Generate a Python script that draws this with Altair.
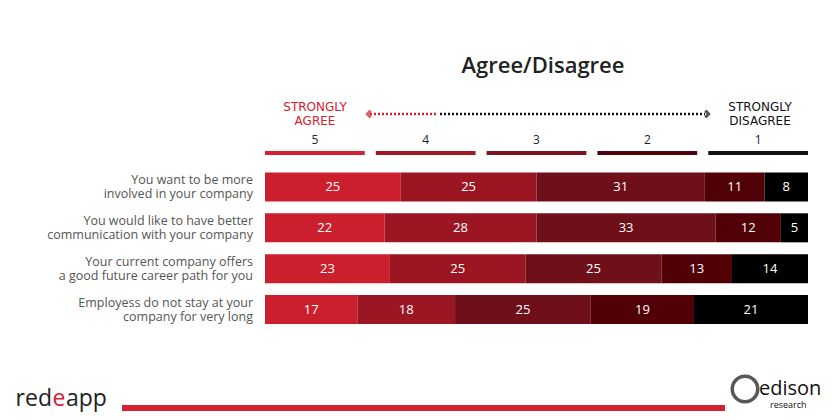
import altair as alt
import pandas as pd

# ---- data ----
categories = [
    "You want to be more\ninvolved in your company",
    "You would like to have better\ncommunication with your company",
    "Your current company offers\na good future career path for you",
    "Employess do not stay at your\ncompany for very long",
]
levels = ["5", "4", "3", "2", "1"]
bar_colors = ["#cc1f2e", "#9b1622", "#6e0f19", "#520007", "#000000"]
legend_colors = ["#d42030", "#a31a27", "#7a1520", "#4d0509", "#111111"]
v5 = [25, 22, 23, 17]
v4 = [25, 28, 25, 18]
v3 = [31, 33, 25, 25]
v2 = [11, 12, 13, 19]
v1 = [8, 5, 14, 21]
title_text = "Agree/Disagree"
agree_text = "STRONGLY\nAGREE"
disagree_text = "STRONGLY\nDISAGREE"

# ---- tables ----
series = [v5, v4, v3, v2, v1]
rows = []
for ci, cat in enumerate(categories):
    acc = 0
    for li, lv in enumerate(levels):
        val = series[li][ci]
        rows.append(dict(cat=cat, level=lv, value=val, start=acc, end=acc + val,
                         mid=acc + val / 2, col=bar_colors[li]))
        acc += val
df = pd.DataFrame(rows)
df_cat = pd.DataFrame({"cat": categories})

step = 100 / 4.9  # five legend segments with small gaps
leg_rows = []
for i, lv in enumerate(levels):
    s = i * step * 1.0
    leg_rows.append(dict(level=lv, start=s, end=s + step * 0.9, mid=s + step * 0.45,
                         col=legend_colors[i]))
df_leg = pd.DataFrame(leg_rows)
one = pd.DataFrame({"a": [0]})

FONT = "Open Sans"
xscale = alt.Scale(domain=[0, 100], range=[257, 800])
yscale = alt.Scale(domain=categories, range=[158.5, 322], paddingInner=0.29, paddingOuter=0.145)

bars = alt.Chart(df).mark_bar().encode(
    x=alt.X("start:Q", scale=xscale, axis=None),
    x2="end:Q",
    y=alt.Y("cat:N", sort=categories, scale=yscale, axis=None),
    color=alt.Color("col:N", scale=None),
)
nums = alt.Chart(df).mark_text(color="white", fontSize=13, font=FONT, fontWeight=500,
                               baseline="middle").encode(
    x=alt.X("mid:Q", scale=xscale, axis=None),
    y=alt.Y("cat:N", sort=categories, scale=yscale, axis=None),
    text="value:Q",
)
cat_labels = alt.Chart(df_cat).mark_text(align="right", baseline="middle", lineBreak="\n",
                                         fontSize=12.5, lineHeight=14.5, dy=-7, color="#555555",
                                         font=FONT).encode(
    x=alt.value(245),
    y=alt.Y("cat:N", sort=categories, scale=yscale, axis=None),
    text="cat:N",
)

leg_bars = alt.Chart(df_leg).mark_bar().encode(
    x=alt.X("start:Q", scale=xscale, axis=None),
    x2="end:Q",
    y=alt.value(143), y2=alt.value(147),
    color=alt.Color("col:N", scale=None),
)
leg_text = alt.Chart(df_leg).mark_text(fontSize=12, font=FONT, color="#222222",
                                       baseline="middle").encode(
    x=alt.X("mid:Q", scale=xscale, axis=None),
    y=alt.value(132),
    text="level:N",
)

title = alt.Chart(one).mark_text(fontSize=22, font=FONT, fontWeight=600, color="#222222",
                                 baseline="middle").encode(
    x=alt.value(535), y=alt.value(58), text=alt.value(title_text))
agree = alt.Chart(one).mark_text(fontSize=12, font="DejaVu Sans", color="#d42030", lineBreak="\n",
                                 lineHeight=14, baseline="middle", dy=-7).encode(
    x=alt.value(307), y=alt.value(106), text=alt.value(agree_text))
disagree = alt.Chart(one).mark_text(fontSize=12, font="DejaVu Sans", color="#111111", lineBreak="\n",
                                    lineHeight=14, baseline="middle", dy=-7).encode(
    x=alt.value(752), y=alt.value(106), text=alt.value(disagree_text))

dot_red = alt.Chart(one).mark_rule(color="#d42030", strokeWidth=2.5, strokeDash=[2, 2]).encode(
    x=alt.value(362), x2=alt.value(430), y=alt.value(106))
dot_blk = alt.Chart(one).mark_rule(color="#111111", strokeWidth=2.5, strokeDash=[2, 2]).encode(
    x=alt.value(432), x2=alt.value(697), y=alt.value(106))
chev_l = alt.Chart(one).mark_point(shape="M 0.5 -1 L -0.5 0 L 0.5 1", filled=False,
                                   color="#d42030", strokeWidth=3, size=45).encode(
    x=alt.value(361), y=alt.value(106))
chev_r = alt.Chart(one).mark_point(shape="M -0.5 -1 L 0.5 0 L -0.5 1", filled=False,
                                   color="#111111", strokeWidth=3, size=45).encode(
    x=alt.value(699), y=alt.value(106))

band = alt.Chart(one).mark_rule(color="#d42030", strokeWidth=6).encode(
    x=alt.value(114), x2=alt.value(717), y=alt.value(400))
logo_red = alt.Chart(one).mark_text(fontSize=23, font=FONT, fontWeight=500, color="#222222",
                                    align="right", baseline="alphabetic").encode(
    x=alt.value(44), y=alt.value(398), text=alt.value("red"))
logo_e = alt.Chart(one).mark_text(fontSize=23, font=FONT, fontWeight=500, color="#d42030",
                                  align="center", baseline="alphabetic").encode(
    x=alt.value(51), y=alt.value(398), text=alt.value("e"))
logo_app = alt.Chart(one).mark_text(fontSize=23, font=FONT, fontWeight=500, color="#222222",
                                    align="left", baseline="alphabetic").encode(
    x=alt.value(58), y=alt.value(398), text=alt.value("app"))
ed_ring = alt.Chart(one).mark_point(shape="circle", filled=False, color="#111111",
                                    strokeWidth=3.5, size=650).encode(
    x=alt.value(737), y=alt.value(381))
ed_text = alt.Chart(one).mark_text(fontSize=20, font=FONT, color="#111111", align="left",
                                   baseline="alphabetic").encode(
    x=alt.value(751), y=alt.value(387), text=alt.value("edison"))
ed_sub = alt.Chart(one).mark_text(fontSize=9, font=FONT, color="#111111", align="left",
                                  baseline="alphabetic").encode(
    x=alt.value(762), y=alt.value(400), text=alt.value("research"))

chart = alt.layer(
    bars, nums, cat_labels, leg_bars, leg_text, title, agree, disagree,
    dot_red, dot_blk, chev_l, chev_r, band, logo_red, logo_e, logo_app,
    ed_ring, ed_text, ed_sub,
).properties(
    width=824, height=404, padding=0,
    autosize=alt.AutoSizeParams(type="none"),
    background="white",
).configure_view(stroke=None)

chart.save("out.html", embed_options={"renderer": "svg", "actions": False})
